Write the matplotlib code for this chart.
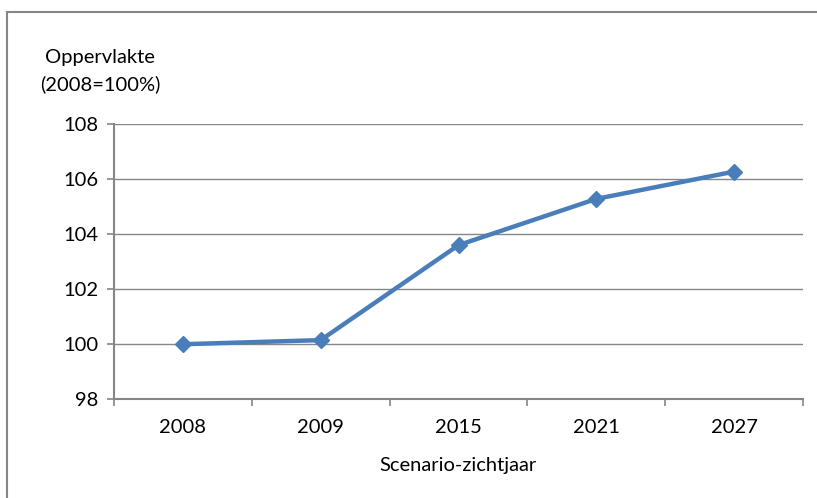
import matplotlib
matplotlib.use("Agg")
import matplotlib.pyplot as plt
from matplotlib.patches import Rectangle

plt.rcParams['font.family'] = ['Lato', 'DejaVu Sans']

years = ["2008", "2009", "2015", "2021", "2027"]
surface_index = [100.0, 100.15, 103.6, 105.28, 106.27]
y_ticks = [98, 100, 102, 104, 106, 108]

W, H = 817, 498
fig = plt.figure(figsize=(W / 100, H / 100), dpi=100)

# outer chart-area frame (runs off the right and bottom edges)
fig.patches.append(Rectangle((7 / W, -0.05), 1.1, 1 - 12 / H + 0.05,
                             transform=fig.transFigure, fill=False,
                             edgecolor="#868686", linewidth=1.5))

ax = fig.add_axes([114 / W, 1 - 399.3 / H, (803 - 114) / W, (399.3 - 124) / H])

grey = "#868686"
x = list(range(len(years)))
ax.plot(x, surface_index, color="#4A7EBB", linewidth=3.2, marker="D",
        markersize=8.5, markerfacecolor="#4A7EBB", markeredgecolor="#4A7EBB",
        zorder=3, clip_on=False)

ax.set_xlim(-0.5, len(years) - 0.5)
ax.set_ylim(y_ticks[0], y_ticks[-1])
ax.set_yticks(y_ticks)
ax.set_xticks(x)
ax.set_xticklabels(years)
ax.set_xticks([i - 0.5 for i in range(len(years) + 1)], minor=True)

ax.grid(axis="y", color=grey, linewidth=1)
ax.set_axisbelow(True)
for side in ("top", "right"):
    ax.spines[side].set_visible(False)
for side in ("left", "bottom"):
    ax.spines[side].set_color(grey)
    ax.spines[side].set_linewidth(1.5)

fs = 14.5
ax.tick_params(axis="x", which="major", length=0, pad=14, labelsize=fs)
ax.tick_params(axis="x", which="minor", length=5, width=1.2, color=grey)
ax.tick_params(axis="y", length=5, width=1.2, color=grey, pad=6, labelsize=fs)

fig.text(100 / W, 1 - 57 / H, "Oppervlakte", ha="center", va="center", fontsize=fs)
fig.text(100 / W, 1 - 84 / H, "(2008=100%)", ha="center", va="center", fontsize=fs)
fig.text(458 / W, 1 - 465 / H, "Scenario-zichtjaar", ha="center", va="center", fontsize=fs)

fig.savefig("out.png", dpi=100)
